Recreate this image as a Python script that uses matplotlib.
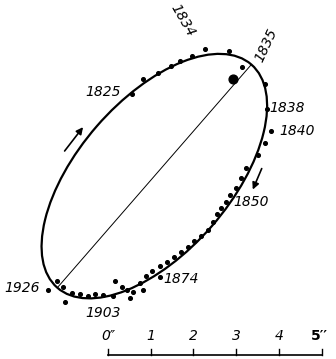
import matplotlib.pyplot as plt
from matplotlib.patches import Ellipse
import numpy as np

# apparent orbit, arcsec relative to the primary star
orbit_center = (-1.834, -2.266)
orbit_axes = (6.91, 3.56)
orbit_angle = 49.0

obs_x = [-2.36, -2.10, -1.75, -1.45, -1.24, -0.96, -0.65, -0.09, 0.21,
         0.75, 0.79, 0.89, 0.75, 0.58, 0.30, 0.19, 0.07, -0.07, -0.16,
         -0.28, -0.37, -0.47, -0.58, -0.75, -0.91, -1.05, -1.21, -1.38,
         -1.54, -1.71, -1.89, -2.03, -1.71, -2.17, -2.10, -2.34, -2.48,
         -2.59, -2.76, -2.41, -2.80, -3.04, -3.22, -3.39, -3.57, -3.76,
         -3.92, -3.97, -4.11, -4.32]
obs_y = [-0.35, 0.00, 0.14, 0.30, 0.42, 0.54, 0.70, 0.65, 0.28,
         -0.12, -0.70, -1.21, -1.50, -1.78, -2.08, -2.31, -2.55, -2.71, -2.87,
         -3.01, -3.15, -3.34, -3.53, -3.67, -3.78, -3.92, -4.04, -4.16,
         -4.27, -4.37, -4.49, -4.60, -4.63, -4.77, -4.93, -4.98, -4.93,
         -4.86, -4.72, -5.12, -5.07, -5.05, -5.02, -5.07, -5.02, -5.00,
         -5.21, -4.86, -4.72, -4.93]

years = ["1834", "1835", "1825", "1838", "1840", "1850", "1874", "1903", "1926"]
year_x = [-1.17, 0.79, -3.04, 1.26, 1.50, 0.42, -1.21, -3.04, -4.93]
year_y = [1.38, 0.79, -0.30, -0.68, -1.21, -2.87, -4.67, -5.47, -4.88]
year_rot = [-60, 65, 0, 0, 0, 0, 0, 0, 0]

scale_labels = ["0\u2033", "1", "2", "3", "4", "5\u2032\u2032"]
scale_start = -2.92
scale_y = -6.45

fig = plt.figure(figsize=(3.36, 3.59), dpi=100)
ax = fig.add_axes([0, 0, 1, 1])
ax.set_xlim(-5.44, 2.41)
ax.set_ylim(-6.54, 1.85)
ax.axis("off")

ax.add_patch(Ellipse(orbit_center, orbit_axes[0], orbit_axes[1], angle=orbit_angle,
                     fill=False, color="black", lw=1.6))

# major axis
t = np.radians(orbit_angle)
a = orbit_axes[0] / 2
ax.plot([orbit_center[0] - a * np.cos(t), orbit_center[0] + a * np.cos(t)],
        [orbit_center[1] - a * np.sin(t), orbit_center[1] + a * np.sin(t)],
        color="black", lw=0.7)

ax.scatter(obs_x, obs_y, s=7, color="black", zorder=3)
ax.scatter([0], [0], s=40, color="black", zorder=3)

font = dict(family="DejaVu Sans", style="italic", fontsize=10)
for txt, x, y, r in zip(years, year_x, year_y, year_rot):
    ax.text(x, y, txt, rotation=r, ha="center", va="center", **font)

# direction of motion
ax.annotate("", xy=(-3.46, -1.07), xytext=(-3.97, -1.73),
            arrowprops=dict(arrowstyle="-|>", color="black", lw=1.2, mutation_scale=10))
ax.annotate("", xy=(0.44, -2.64), xytext=(0.70, -2.03),
            arrowprops=dict(arrowstyle="-|>", color="black", lw=1.2, mutation_scale=10))

# scale bar
ax.plot([scale_start, scale_start + 5], [scale_y, scale_y], color="black", lw=1.2)
for i, lab in enumerate(scale_labels):
    ax.plot([scale_start + i, scale_start + i], [scale_y, scale_y + 0.15], color="black", lw=1.0)
    if i == 5:
        ax.text(scale_start + i - 0.25, scale_y + 0.28, lab, ha="left", va="bottom",
                family="DejaVu Sans", fontweight="bold", fontsize=10)
    else:
        ax.text(scale_start + i, scale_y + 0.28, lab, ha="center", va="bottom", **font)

fig.savefig("out.png", dpi=100)
